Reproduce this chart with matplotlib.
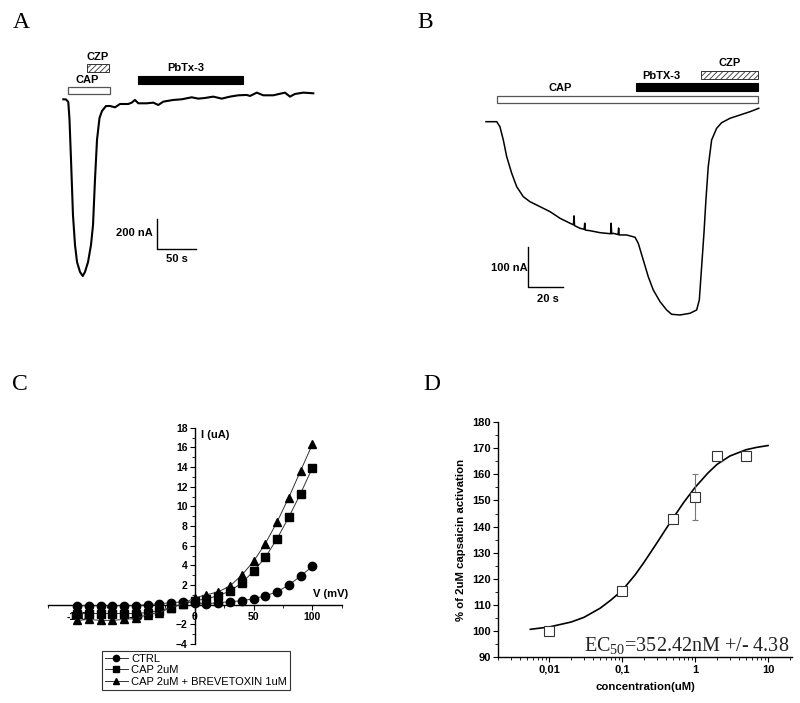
import matplotlib
matplotlib.use("Agg")
import matplotlib.pyplot as plt
from matplotlib.patches import Rectangle
from matplotlib.ticker import MultipleLocator, LogLocator, NullFormatter
import numpy as np

plt.rcParams['font.family'] = ['Liberation Sans', 'DejaVu Sans']
plt.rcParams['hatch.linewidth'] = 0.6
plt.rcParams['mathtext.fontset'] = 'custom'
plt.rcParams['mathtext.rm'] = 'Liberation Serif'

# ---------------- Data ----------------
# Panel A: current trace (time s, current nA relative to baseline)
trace_a_t = [0, 3.5, 6.4, 7.9, 9.9, 12.4, 15, 17.6, 21.4, 24.9, 27.8, 31.7, 35.5, 38.1, 40.6,
             43.2, 46.4, 49.6, 54.7, 59.9, 66.3, 72.7, 83.3, 87.7, 91.9, 96.2, 106.9, 115.4,
             121.8, 128.2, 141, 151.8, 164.6, 173.1, 181.7, 192.3, 203.1, 213.7, 224.4, 235.1,
             239.4, 248, 256.4, 269.2, 284.2, 290.6, 297, 307.7, 320.5]
trace_a_i = [0, -1, -18, -130, -405, -771, -971, -1085, -1151, -1178, -1151, -1085, -971, -838,
             -538, -271, -125, -78, -45, -44.7, -53.5, -31.3, -31.3, -22.4, -4.4, -26.7, -26.7,
             -22.4, -37.8, -15.6, -4.4, 0, 13.3, 4.4, 8.9, 17.8, 4.4, 17.8, 26.7, 28.9, 22.2,
             44.4, 26.7, 26.7, 44.4, 17.8, 35.6, 44.4, 40]
# application bars (start s, end s)
a_cap = (6.0, 59.9)
a_czp = (30.0, 59.0)
a_pbtx = (96.2, 230.8)
a_scale_nA = 200
a_scale_s = 50

# Panel B
trace_b_t = [0, 6.0, 7.8, 9.7, 11.6, 14.4, 17.2, 20.9, 24.6, 30.3, 35.9, 41.5, 47.1, 49.0, 49.3,
             49.6, 52.7, 55.0, 55.3, 55.6, 58.3, 63.9, 69.8, 70.1, 70.4, 71.3, 74.0, 74.3, 74.6,
             78.8, 83.5, 85.3, 88.1, 90.9, 93.7, 97.5, 101.2, 104, 108.7, 114.3, 118, 119.5,
             120.8, 122.1, 123.2, 124.5, 126.4, 129.2, 132, 136.7, 142.3, 147.9, 152.8]
trace_b_i = [0, 0, -12.3, -45.1, -86.2, -127.1, -160.1, -184.7, -197, -209.4, -221.7, -238,
             -250.2, -254, -232, -256, -262.6, -265, -250, -267, -268.5, -273.4, -276, -250,
             -276, -275, -278, -262, -279, -279, -284.7, -299.5, -340.6, -381.8, -414.5, -443.3,
             -463.8, -474.4, -476.1, -471.9, -463.8, -439.2, -357.1, -274.9, -192.9, -110.8,
             -45.1, -16.3, -2.5, 8.4, 16.5, 24.6, 33]
b_cap = (6.0, 152.5)
b_pbtx = (83.9, 152.5)
b_czp = (120.4, 152.5)
b_scale_nA = 100
b_scale_s = 20

# Panel C: I-V curves
voltage = [-100, -90, -80, -70, -60, -50, -40, -30, -20, -10, 0, 10, 20, 30, 40, 50, 60, 70, 80, 90, 100]
i_ctrl = [-0.1, -0.1, -0.1, -0.1, -0.1, -0.1, 0.0, 0.1, 0.2, 0.3, 0.2, 0.1, 0.2, 0.3, 0.4, 0.6,
          0.9, 1.3, 2.0, 2.9, 3.9]
i_cap = [-0.9, -0.9, -0.9, -0.9, -0.9, -0.9, -0.8, -0.6, -0.3, 0.1, 0.4, 0.6, 0.9, 1.4, 2.2, 3.4,
         4.8, 6.7, 8.9, 11.3, 13.9]
i_pbtx = [-1.6, -1.5, -1.6, -1.6, -1.5, -1.4, -1.0, -0.8, -0.3, 0.1, 0.7, 1.0, 1.3, 1.9, 3.0, 4.4,
          6.2, 8.4, 10.9, 13.6, 16.3]
legend_c = ['CTRL', 'CAP 2uM', 'CAP 2uM + BREVETOXIN 1uM']

# Panel D: dose response
conc = [0.01, 0.1, 0.5, 1, 2, 5]
resp = [100, 115.5, 142.8, 151.5, 167, 167]
resp_err = [0, 0, 0, 8.8, 0, 0]
fit_x = [0.0055, 0.01, 0.02, 0.03, 0.05, 0.07, 0.1, 0.15, 0.2, 0.3, 0.4, 0.5, 0.7, 1, 1.5, 2, 3, 5, 7, 10]
fit_y = [100.7, 101.6, 103.5, 105.3, 108.8, 111.9, 115.6, 121.5, 126.4, 133.8, 139.2, 143.3,
         149.3, 155.0, 160.5, 163.8, 167.0, 169.4, 170.3, 171.0]
d_xticks = [0.01, 0.1, 1, 10]
d_xticklabels = ['0,01', '0,1', '1', '10']

W, H = 800, 703
fig = plt.figure(figsize=(8, 7.03), dpi=100)


def px_axes(x0, y0, x1, y1):
    return fig.add_axes([x0 / W, 1 - y1 / H, (x1 - x0) / W, (y1 - y0) / H])


bold = dict(fontweight='bold', fontsize=8)


def bar(ax, span, y0, y1, kind):
    if kind == 'open':
        r = Rectangle((span[0], y0), span[1] - span[0], y1 - y0, facecolor='white', edgecolor='#555', lw=0.9)
    elif kind == 'black':
        r = Rectangle((span[0], y0), span[1] - span[0], y1 - y0, facecolor='black', edgecolor='black', lw=0.8)
    else:
        r = Rectangle((span[0], y0), span[1] - span[0], y1 - y0, facecolor='white', edgecolor='#333',
                      lw=0.7, hatch='//////')
    ax.add_patch(r)


# ---------------- Panel A ----------------
axA = px_axes(50, 40, 330, 290)
axA.set_xlim(-17.05, 341.9)
axA.set_ylim(-1271.3, 395.3)
axA.axis('off')
axA.plot(trace_a_t, trace_a_i, color='black', lw=1.5, solid_joinstyle='round')
bar(axA, a_cap, 35.3, 84, 'open')
bar(axA, a_czp, 182, 233.3, 'hatch')
bar(axA, a_pbtx, 100, 153.3, 'black')
axA.text(44.5, 284, 'CZP', ha='center', va='center', **bold)
axA.text(30.8, 128.7, 'CAP', ha='center', va='center', **bold)
axA.text(157.3, 206.7, 'PbTx-3', ha='center', va='center', **bold)
sx, sy = 120.1, -998
axA.plot([sx, sx, sx + a_scale_s], [sy + a_scale_nA, sy, sy], color='black', lw=1.0)
axA.text(sx - 5, sy + a_scale_nA * 0.53, f'{a_scale_nA} nA', ha='right', va='center', **bold)
axA.text(sx + a_scale_s / 2, sy - 67, f'{a_scale_s} s', ha='center', va='center', **bold)

# ---------------- Panel B ----------------
axB = px_axes(470, 40, 780, 330)
axB.set_xlim(-8.96, 164.7)
axB.set_ylim(-513.1, 201.2)
axB.axis('off')
axB.plot(trace_b_t, trace_b_i, color='black', lw=1.1)
bar(axB, b_cap, 45.3, 64, 'open')
bar(axB, b_pbtx, 76.4, 95.3, 'black')
bar(axB, b_czp, 105.9, 125.6, 'hatch')
axB.text(41.5, 82.3, 'CAP', ha='center', va='center', **bold)
axB.text(98.4, 112.6, 'PbTX-3', ha='center', va='center', **bold)
axB.text(136.7, 143.8, 'CZP', ha='center', va='center', **bold)
sx, sy = 23.4, -407.9
axB.plot([sx, sx, sx + b_scale_s], [sy + b_scale_nA, sy, sy], color='black', lw=1.0)
axB.text(sx - 0.3, sy + b_scale_nA * 0.48, f'{b_scale_nA} nA', ha='right', va='center', **bold)
axB.text(sx + b_scale_s * 0.56, sy - 29, f'{b_scale_s} s', ha='center', va='center', **bold)

# ---------------- Panel C ----------------
axC = px_axes(47.7, 427.7, 341.7, 644)
axC.set_xlim(-125, 125)
axC.set_ylim(-4, 18)
for s in ['top', 'right']:
    axC.spines[s].set_visible(False)
axC.spines['left'].set_position(('data', 0))
axC.spines['bottom'].set_position(('data', 0))
for s in ['left', 'bottom']:
    axC.spines[s].set_linewidth(1.0)
axC.set_xticks([-100, -50, 0, 50, 100])
axC.set_xticklabels(['-100', '-50', '0', '50', '100'])
axC.set_yticks([-4, -2, 2, 4, 6, 8, 10, 12, 14, 16, 18])
axC.xaxis.set_minor_locator(MultipleLocator(25))
axC.yaxis.set_minor_locator(MultipleLocator(1))
axC.tick_params(which='major', direction='out', length=3.5, width=0.8, labelsize=7.5, pad=1.5)
axC.tick_params(which='minor', direction='out', length=2, width=0.6)
for lab in axC.get_xticklabels() + axC.get_yticklabels():
    lab.set_fontweight('bold')
mk = dict(color='#333', lw=0.7, markersize=6, markerfacecolor='black', markeredgecolor='black')
axC.plot(voltage, i_ctrl, marker='o', label=legend_c[0], zorder=3, **mk)
axC.plot(voltage, i_cap, marker='s', label=legend_c[1], zorder=3, **mk)
axC.plot(voltage, i_pbtx, marker='^', label=legend_c[2], zorder=3, **mk)
axC.text(5, 17.3, 'I (uA)', ha='left', va='center', fontsize=8, fontweight='bold')
axC.text(100.3, 1.1, 'V (mV)', ha='left', va='center', fontsize=8, fontweight='bold', clip_on=False)
leg = axC.legend(loc='upper left', bbox_to_anchor=(102 / W, 1 - 650.7 / H), bbox_transform=fig.transFigure,
                 borderaxespad=0, frameon=True, fancybox=False, edgecolor='#333', framealpha=1,
                 fontsize=8, handlelength=2.0, handletextpad=0.3, labelspacing=0.12, borderpad=0.3,
                 markerscale=0.75)
leg.get_frame().set_linewidth(0.8)

# ---------------- Panel D ----------------
axD = px_axes(498.3, 422, 791.7, 657.3)
axD.set_xscale('log')
axD.set_xlim(0.002, 21.1)
axD.set_ylim(90, 180)
for s in ['top', 'right']:
    axD.spines[s].set_visible(False)
for s in ['left', 'bottom']:
    axD.spines[s].set_linewidth(1.0)
axD.plot(fit_x, fit_y, color='black', lw=1.2)
axD.errorbar(conc, resp, yerr=resp_err, fmt='none', ecolor='#777', elinewidth=0.8, capsize=2.5, capthick=0.8)
axD.plot(conc, resp, linestyle='none', marker='s', markersize=6.5, markerfacecolor='white',
         markeredgecolor='#333', markeredgewidth=0.8, zorder=4)
axD.set_xticks(d_xticks)
axD.set_xticklabels(d_xticklabels)
axD.xaxis.set_minor_locator(LogLocator(base=10, subs=np.arange(2, 10)))
axD.xaxis.set_minor_formatter(NullFormatter())
axD.set_yticks(np.arange(90, 181, 10))
axD.yaxis.set_minor_locator(MultipleLocator(5))
axD.tick_params(which='major', direction='out', length=3.5, width=0.8, labelsize=8, pad=2)
axD.tick_params(which='minor', direction='out', length=2, width=0.6)
for lab in axD.get_xticklabels() + axD.get_yticklabels():
    lab.set_fontweight('bold')
axD.set_xlabel('concentration(uM)', fontsize=8.2, fontweight='bold', labelpad=5)
axD.set_ylabel('% of 2uM capsaicin activation', fontsize=8.2, fontweight='bold', labelpad=4)
axD.text(0.992, 0.045, r'EC$_{\mathrm{50}}$=352.42nM +/- 4.38', transform=axD.transAxes, ha='right',
         va='center', fontsize=14.5, family='Liberation Serif', color='#222')

# ---------------- Panel letters ----------------
for letter, (x, y) in zip('ABCD', [(21, 22), (425, 22), (20, 384), (432, 384)]):
    fig.text(x / W, 1 - y / H, letter, ha='center', va='center', fontsize=17, family='Liberation Serif')

fig.savefig('out.png', dpi=100)
